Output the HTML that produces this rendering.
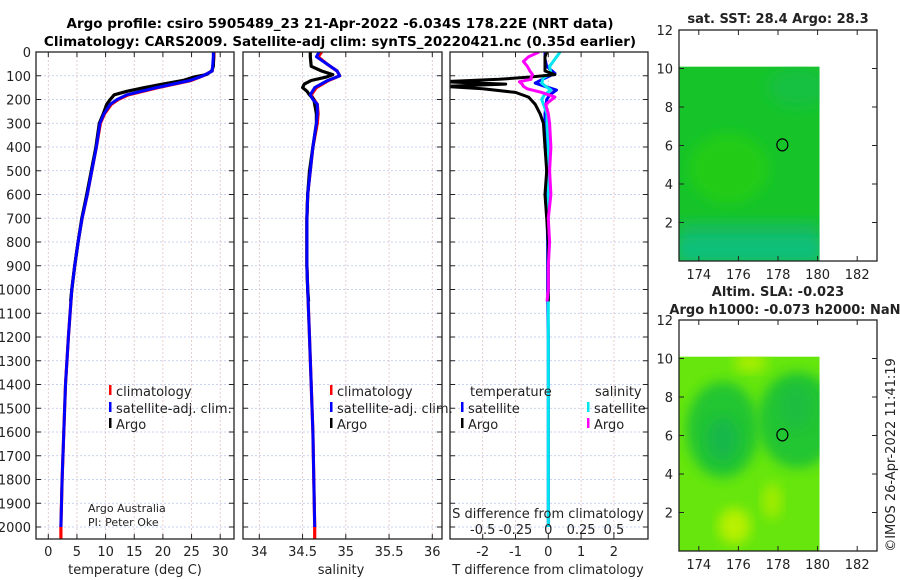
<!DOCTYPE html>
<html><head><meta charset="utf-8">
<style>
html,body{margin:0;padding:0;background:#fff;}
svg{display:block;font-family:"DejaVu Sans","Liberation Sans",sans-serif;}
</style></head>
<body>
<svg id="fig" width="900" height="580" viewBox="0 0 900 580" xmlns="http://www.w3.org/2000/svg">
<defs>
<filter id="blur" x="-20%" y="-20%" width="140%" height="140%"><feGaussianBlur stdDeviation="6"/></filter>
<clipPath id="clipMapA"><rect x="679" y="30" width="198" height="231"/></clipPath>
<clipPath id="clipMapB"><rect x="679" y="320" width="198" height="231"/></clipPath>
<clipPath id="clipP1"><rect x="36" y="52" width="198" height="487"/></clipPath>
<clipPath id="clipP2"><rect x="243" y="52" width="199" height="487"/></clipPath>
<clipPath id="clipP3"><rect x="450" y="52" width="198" height="487"/></clipPath>
</defs>
<text x="340" y="28" text-anchor="middle" font-size="13.5" font-weight="bold">Argo profile: csiro 5905489_23 21-Apr-2022 -6.034S 178.22E (NRT data)</text>
<text x="340" y="46" text-anchor="middle" font-size="13.5" font-weight="bold">Climatology: CARS2009. Satellite-adj clim: synTS_20220421.nc (0.35d earlier)</text>
<g id="layer"></g>
</svg>
<script>
// ---- data ----
const depthTicks = [0,100,200,300,400,500,600,700,800,900,1000,1100,1200,1300,1400,1500,1600,1700,1800,1900,2000];
const tempTicks = [0,5,10,15,20,25,30];
const salTicks = [34,34.5,35,35.5,36];
const salTickLabels = ["34","34.5","35","35.5","36"];
const tdiffTicks = [-2,-1,0,1,2];
const sdiffTicks = [-0.5,-0.25,0,0.25,0.5];
const sdiffTickLabels = ["-0.5","-0.25","0","0.25","0.5"];

const climDepth = [0,20,50,80,100,120,150,180,200,220,260,300,400,500,600,700,800,900,1000,1200,1400,1600,1800,2000,2050];
const climTemp  = [28.9,28.9,28.8,28.6,27.0,24.9,19.2,14.0,12.2,11.0,9.8,9.1,8.4,7.6,6.8,5.9,5.2,4.6,4.1,3.5,3.0,2.7,2.4,2.2,2.2];
const climSal   = [34.72,34.68,34.78,34.9,34.93,34.8,34.66,34.6,34.63,34.67,34.68,34.67,34.62,34.59,34.56,34.55,34.55,34.55,34.56,34.58,34.6,34.62,34.63,34.64,34.64];
const satDepth  = [0,20,50,80,100,120,150,180,200,220,260,300,400,500,600,700,800,900,1000,1200,1400,1600,1800,2000];
const satTemp   = [28.8,28.8,28.7,28.6,27.0,24.7,18.9,13.7,12.0,10.8,9.7,9.0,8.4,7.6,6.8,5.9,5.2,4.6,4.1,3.5,3.0,2.7,2.4,2.2];
const satSal    = [34.69,34.66,34.78,34.9,34.93,34.79,34.64,34.59,34.62,34.67,34.67,34.66,34.62,34.59,34.56,34.55,34.55,34.55,34.56,34.58,34.6,34.62,34.63,34.64];
const argoDepth = [0,20,60,80,95,105,120,135,150,165,180,200,220,260,300,400,500,600,700,800,900,1000,1050];
const argoTemp  = [28.85,28.85,28.8,28.5,27.6,25.5,23.5,20.0,16.8,13.8,11.5,10.8,10.2,9.6,8.9,8.3,7.5,6.7,5.85,5.2,4.6,4.1,3.9];
const argoSal   = [34.59,34.59,34.6,34.72,34.85,34.78,34.6,34.52,34.5,34.55,34.58,34.63,34.64,34.66,34.66,34.62,34.58,34.56,34.55,34.55,34.55,34.56,34.57];

const diffDepth = [0,20,40,60,80,95,105,115,125,135,145,155,170,190,220,260,300,400,500,600,700,800,900,1000,1050];
const argoTdiff = [-0.05,-0.1,-0.1,-0.1,-0.1,0.2,-0.5,-1.5,-3.2,-1.3,-3.2,-2.0,-1.0,-0.6,-0.4,-0.25,-0.15,-0.1,-0.05,-0.1,-0.05,0,0,0,0];
const argoSdiff = [-0.07,-0.15,-0.19,-0.16,-0.14,-0.12,-0.13,-0.13,-0.22,-0.2,-0.19,-0.16,-0.05,0.05,-0.02,0,0.01,0.02,0.01,0.02,0,0.01,0.0,0.0,-0.01];
const satDiffDepth = [0,30,60,90,110,131,145,160,180,200,260,300,400,500,600,800,1000,1200,1500,2000];
const satTdiff = [-0.1,-0.1,-0.05,0.2,-0.1,-0.4,-0.1,0.25,0.05,-0.05,-0.1,-0.1,-0.05,-0.05,-0.05,-0.02,-0.02,0,0,0];
const satSdiff = [0.09,0.05,0.01,0.02,-0.04,-0.05,-0.02,0.02,-0.03,-0.05,-0.01,-0.01,0,0,0,0,0,0,0,0];

const mapXTicks = [174,176,178,180,182];
const mapYTicks = [2,4,6,8,10,12];
const argoLon = 178.22, argoLat = 6.034;

// ---- scales ----
const yTop=52, yBot=539;
const yD = d => yTop + d*0.2375;
const xT = v => 48.3 + v*5.73;
const xS = v => 259.3 + (v-34)*86.5;
const xTd = v => 548.3 + v*32.8;
const xSd = v => 548.3 + v*131.2;
const mxA = v => 679 + (v-173)*19.8;
const myA = v => 261 - v*19.25;
const myB = v => 551 - v*19.25;

const NS="http://www.w3.org/2000/svg";
const layer=document.getElementById('layer');
function mk(tag, attrs, parent){const e=document.createElementNS(NS,tag);for(const k in attrs)e.setAttribute(k,attrs[k]);(parent||layer).appendChild(e);return e;}
function txt(x,y,s,size,anchor,parent){const e=mk('text',{x:x,y:y,'font-size':size,'text-anchor':anchor||'middle',fill:'#222'},parent);e.textContent=s;return e;}

function panel(name,x0,x1,xticks,xf,showY,clip){
  const g=mk('g',{});
  
  
  depthTicks.forEach(d=>{mk('line',{x1:x0,x2:x1,y1:yD(d),y2:yD(d),stroke:'#b8c4ee','stroke-width':0.8,'stroke-dasharray':'2,2'},g);});
  xticks.forEach(v=>{const x=xf(v);mk('line',{x1:x,x2:x,y1:yTop,y2:yBot,stroke:'#e0c0c0','stroke-width':0.8,'stroke-dasharray':'2,2'},g);});
  depthTicks.forEach(d=>{const y=yD(d);mk('line',{x1:x0,x2:x0+5,y1:y,y2:y,stroke:'#222'},g);mk('line',{x1:x1-5,x2:x1,y1:y,y2:y,stroke:'#222'},g);
    if(showY){txt(x0-5,y+5,String(d),13,'end',g);}});
  xticks.forEach(v=>{const x=xf(v);mk('line',{x1:x,x2:x,y1:yBot-5,y2:yBot,stroke:'#222'},g);mk('line',{x1:x,x2:x,y1:yTop,y2:yTop+5,stroke:'#222'},g);});
  return g;
}
function line(g,depths,vals,xf,color,w,clip,name){
  const pts=depths.map((d,i)=>xf(vals[i]).toFixed(1)+','+yD(d).toFixed(1)).join(' ');
  const p=mk('polyline',{points:pts,fill:'none',stroke:color,'stroke-width':w,'stroke-linejoin':'round','clip-path':'url(#'+clip+')'},g);
  
  
  return p;
}
function frame(g,x0,x1){mk('rect',{x:x0,y:yTop,width:x1-x0,height:yBot-yTop,fill:'none',stroke:'#222','stroke-width':1.3},g);}
function legendEntry(g,x,y,color,label,name){
  mk('rect',{x:x,y:y-11,width:2.5,height:10,fill:color},g);
  const t=txt(x+7,y,label,13,'start',g);
  
  
}

// Panel 1: temperature
const g1=panel('temperature-panel',36,234,tempTicks,xT,true);
line(g1,climDepth,climTemp,xT,'#ff0000',3.2,'clipP1','temp-climatology-line');
line(g1,argoDepth,argoTemp,xT,'#000',3.2,'clipP1','temp-argo-line');
line(g1,satDepth,satTemp,xT,'#0000ff',3,'clipP1','temp-satellite-line');
frame(g1,36,234);
tempTicks.forEach(v=>txt(xT(v),556,String(v),13,'middle',g1));
const l1=txt(135,574,'temperature (deg C)',13,'middle',g1);


legendEntry(g1,109,396,'#ff0000','climatology','legend-climatology');
legendEntry(g1,109,413,'#0000ff','satellite-adj. clim.','legend-satellite-adj');
legendEntry(g1,109,429,'#000','Argo','legend-argo');
txt(88,512,'Argo Australia',11,'start',g1);
txt(88,526,'PI: Peter Oke',11,'start',g1);

// Panel 2: salinity
const g2=panel('salinity-panel',243,442,salTicks,xS,false);
line(g2,climDepth,climSal,xS,'#ff0000',3.2,'clipP2','sal-climatology-line');
line(g2,argoDepth,argoSal,xS,'#000',3.2,'clipP2','sal-argo-line');
line(g2,satDepth,satSal,xS,'#0000ff',3,'clipP2','sal-satellite-line');
frame(g2,243,442);
salTicks.forEach((v,i)=>txt(xS(v),556,salTickLabels[i],13,'middle',g2));
const l2=txt(341,574,'salinity',13,'middle',g2);


legendEntry(g2,330,396,'#ff0000','climatology','legend-climatology-2');
legendEntry(g2,330,413,'#0000ff','satellite-adj. clim.','legend-satellite-adj-2');
legendEntry(g2,330,429,'#000','Argo','legend-argo-2');

// Panel 3: differences
const g3=panel('difference-panel',450,648,tdiffTicks,xTd,false);
line(g3,satDiffDepth,satTdiff,xTd,'#0000ff',3,'clipP3','temp-satellite-diff-line');
line(g3,satDiffDepth,satSdiff,xSd,'#00e5ee',3,'clipP3','sal-satellite-diff-line');
line(g3,diffDepth,argoTdiff,xTd,'#000',3,'clipP3','temp-argo-diff-line');
line(g3,diffDepth,argoSdiff,xSd,'#ff00ff',3,'clipP3','sal-argo-diff-line');
frame(g3,450,648);
tdiffTicks.forEach(v=>txt(xTd(v),556,String(v),13,'middle',g3));
sdiffTicks.forEach((v,i)=>txt(xSd(v),534,sdiffTickLabels[i],13,'middle',g3));
const l3=txt(548,574,'T difference from climatology',13,'middle',g3);


const l3b=txt(548,518,'S difference from climatology',13,'middle',g3);


txt(470,396,'temperature',13,'start',g3);
txt(595,396,'salinity',13,'start',g3);
legendEntry(g3,461,413,'#0000ff','satellite','legend-temp-satellite');
legendEntry(g3,461,429,'#000','Argo','legend-temp-argo');
legendEntry(g3,587,413,'#00e5ee','satellite','legend-sal-satellite');
legendEntry(g3,587,429,'#ff00ff','Argo','legend-sal-argo');

// Maps
function mapPanel(name,yf,top,clip,kind){
  const g=mk('g',{});
  
  
  const cg=mk('g',{'clip-path':'url(#'+clip+')'},g);
  const x0=mxA(173),x1=mxA(180.1),y0=yf(10.1),y1=yf(0);
  mk('clipPath',{id:clip+'i'},cg).appendChild((()=>{const r=document.createElementNS(NS,'rect');r.setAttribute('x',x0);r.setAttribute('y',y0);r.setAttribute('width',x1-x0);r.setAttribute('height',y1-y0);return r;})());
  const ig=mk('g',{'clip-path':'url(#'+clip+'i)'},cg);
  if(kind==='sst'){
    mk('rect',{x:x0,y:y0,width:x1-x0,height:y1-y0,fill:'#16c42a'},ig);
    mk('rect',{x:x0,y:yf(2),width:x1-x0,height:yf(0)-yf(2),fill:'#12bb60',filter:'url(#blur)'},ig);
    mk('rect',{x:x0,y:yf(1.2),width:x1-x0,height:yf(0)-yf(1.2),fill:'#10c07a',filter:'url(#blur)'},ig);
    mk('ellipse',{cx:mxA(175.5),cy:yf(4.8),rx:40,ry:35,fill:'#20cc18',filter:'url(#blur)'},ig);
    mk('ellipse',{cx:mxA(179),cy:yf(9),rx:30,ry:20,fill:'#12c040',filter:'url(#blur)'},ig);
  } else {
    mk('rect',{x:x0,y:y0,width:x1-x0,height:y1-y0,fill:'#66e60c'},ig);
    mk('ellipse',{cx:mxA(175.2),cy:yf(6.3),rx:36,ry:48,fill:'#22c530',filter:'url(#blur)'},ig);
    mk('ellipse',{cx:mxA(175.2),cy:yf(5.8),rx:16,ry:22,fill:'#19b848',filter:'url(#blur)'},ig);
    mk('ellipse',{cx:mxA(179),cy:yf(6.8),rx:40,ry:48,fill:'#22c530',filter:'url(#blur)'},ig);
    mk('ellipse',{cx:mxA(178.9),cy:yf(7.5),rx:16,ry:22,fill:'#1bbd40',filter:'url(#blur)'},ig);
    mk('ellipse',{cx:mxA(175.8),cy:yf(1.3),rx:16,ry:18,fill:'#b8f000',filter:'url(#blur)'},ig);
    mk('ellipse',{cx:mxA(176.6),cy:yf(9.8),rx:16,ry:10,fill:'#a8ee00',filter:'url(#blur)'},ig);
    mk('ellipse',{cx:mxA(177.7),cy:yf(2.6),rx:10,ry:18,fill:'#a0ec00',filter:'url(#blur)'},ig);
  }
  const c=mk('ellipse',{cx:mxA(argoLon),cy:yf(argoLat),rx:5.5,ry:6,fill:'none',stroke:'#000','stroke-width':1.2},g);
  
  
  mk('rect',{x:679,y:top,width:198,height:231,fill:'none',stroke:'#222','stroke-width':1.3},g);
  mapXTicks.forEach(v=>{const x=mxA(v);mk('line',{x1:x,x2:x,y1:top+231-5,y2:top+231,stroke:'#222'},g);mk('line',{x1:x,x2:x,y1:top,y2:top+5,stroke:'#222'},g);txt(x,top+249,String(v),13,'middle',g);});
  mapYTicks.forEach(v=>{const y=yf(v);mk('line',{x1:679,x2:684,y1:y,y2:y,stroke:'#222'},g);mk('line',{x1:872,x2:877,y1:y,y2:y,stroke:'#222'},g);txt(673,y+5,String(v),13,'end',g);});
  return g;
}
mapPanel('sst-map',myA,30,'clipMapA','sst');
mapPanel('sla-map',myB,320,'clipMapB','sla');
const t1=txt(778,23,'sat. SST: 28.4 Argo: 28.3',13,'middle');t1.setAttribute('font-weight','bold');


const t2=txt(778,296,'Altim. SLA: -0.023',13,'middle');t2.setAttribute('font-weight','bold');


const t3=txt(785,314,'Argo h1000: -0.073 h2000: NaN',13,'middle');t3.setAttribute('font-weight','bold');


const cr=txt(0,0,'©IMOS 26-Apr-2022 11:41:19',13,'middle');
cr.setAttribute('transform','translate(895,455) rotate(-90)');


</script>
</body></html>
